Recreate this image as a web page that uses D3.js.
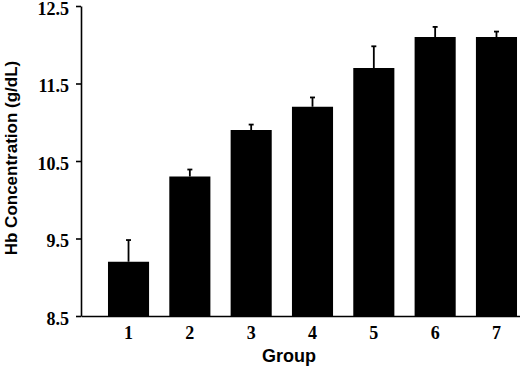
<!DOCTYPE html>
<html>
<head>
<meta charset="utf-8">
<script src="https://cdn.jsdelivr.net/npm/d3@7"></script>
<style>
    body { margin: 0; background: #fff; }
    svg { display: block; }
</style>
</head>
<body>
<div id="viz"></div>
<script>
// Chart data
const groups = ["1", "2", "3", "4", "5", "6", "7"];
const hbMeans = [9.2, 10.3, 10.9, 11.2, 11.7, 12.1, 12.1];
const hbErrors = [0.28, 0.09, 0.07, 0.12, 0.28, 0.13, 0.07];
const yTicks = [8.5, 9.5, 10.5, 11.5, 12.5];

const dims = { width: 520, height: 375 };
const serif = "'Liberation Serif', 'Times New Roman', serif";
const sans = "'Liberation Sans', Arial, sans-serif";

const data = groups.map((g, i) => ({ group: g, mean: hbMeans[i], err: hbErrors[i] }));

const svg = d3.select("#viz")
    .append("svg")
    .attr("width", dims.width)
    .attr("height", dims.height);

// scales
const xScale = d3.scaleBand()
    .domain(groups)
    .range([81, 544])
    .paddingInner(0.33)
    .paddingOuter(0.44);

const yScale = d3.scaleLinear()
    .domain([8.5, 12.5])
    .range([316, 6]);

// bars
svg.append("g")
    .selectAll("rect")
    .data(data)
    .join("rect")
    .attr("x", d => xScale(d.group))
    .attr("width", xScale.bandwidth())
    .attr("y", d => yScale(d.mean))
    .attr("height", d => yScale(8.5) - yScale(d.mean))
    .style("fill", "#000");

// error bars (upper half only)
const err = svg.append("g")
    .selectAll("g")
    .data(data)
    .join("g")
    .attr("transform", d => `translate(${xScale(d.group) + xScale.bandwidth() / 2},0)`);

err.append("line")
    .attr("y1", d => yScale(d.mean))
    .attr("y2", d => yScale(d.mean + d.err))
    .style("stroke", "#000")
    .style("stroke-width", 1.8);

err.append("line")
    .attr("x1", -2.5)
    .attr("x2", 2.5)
    .attr("y1", d => yScale(d.mean + d.err))
    .attr("y2", d => yScale(d.mean + d.err))
    .style("stroke", "#000")
    .style("stroke-width", 1.8);

// axes
const xAxis = svg.append("g")
    .attr("transform", `translate(0,${yScale(8.5)})`)
    .call(d3.axisBottom(xScale).tickSize(0).tickPadding(10));

const yAxis = svg.append("g")
    .attr("transform", `translate(81,0)`)
    .call(d3.axisLeft(yScale).tickValues(yTicks).tickFormat(d3.format(".1f")).tickSize(5).tickSizeOuter(0).tickPadding(7));

yAxis.selectAll(".tick text").attr("dy", "0.45em");

[xAxis, yAxis].forEach(ax => {
    ax.select(".domain").style("stroke", "#000").style("stroke-width", 1.6);
    ax.selectAll(".tick line").style("stroke", "#000").style("stroke-width", 1.6);
    ax.selectAll(".tick text")
        .style("font-family", serif)
        .style("font-weight", "bold")
        .style("font-size", "18px")
        .style("fill", "#000");
});

// axis titles
svg.append("text")
    .attr("transform", "translate(11,158) rotate(-90)")
    .attr("dy", "0.35em")
    .style("text-anchor", "middle")
    .style("font-family", sans)
    .style("font-weight", "bold")
    .style("font-size", "17px")
    .text("Hb Concentration (g/dL)");

svg.append("text")
    .attr("x", 289)
    .attr("y", 362)
    .style("text-anchor", "middle")
    .style("font-family", sans)
    .style("font-weight", "bold")
    .style("font-size", "18px")
    .text("Group");
</script>
</body>
</html>
